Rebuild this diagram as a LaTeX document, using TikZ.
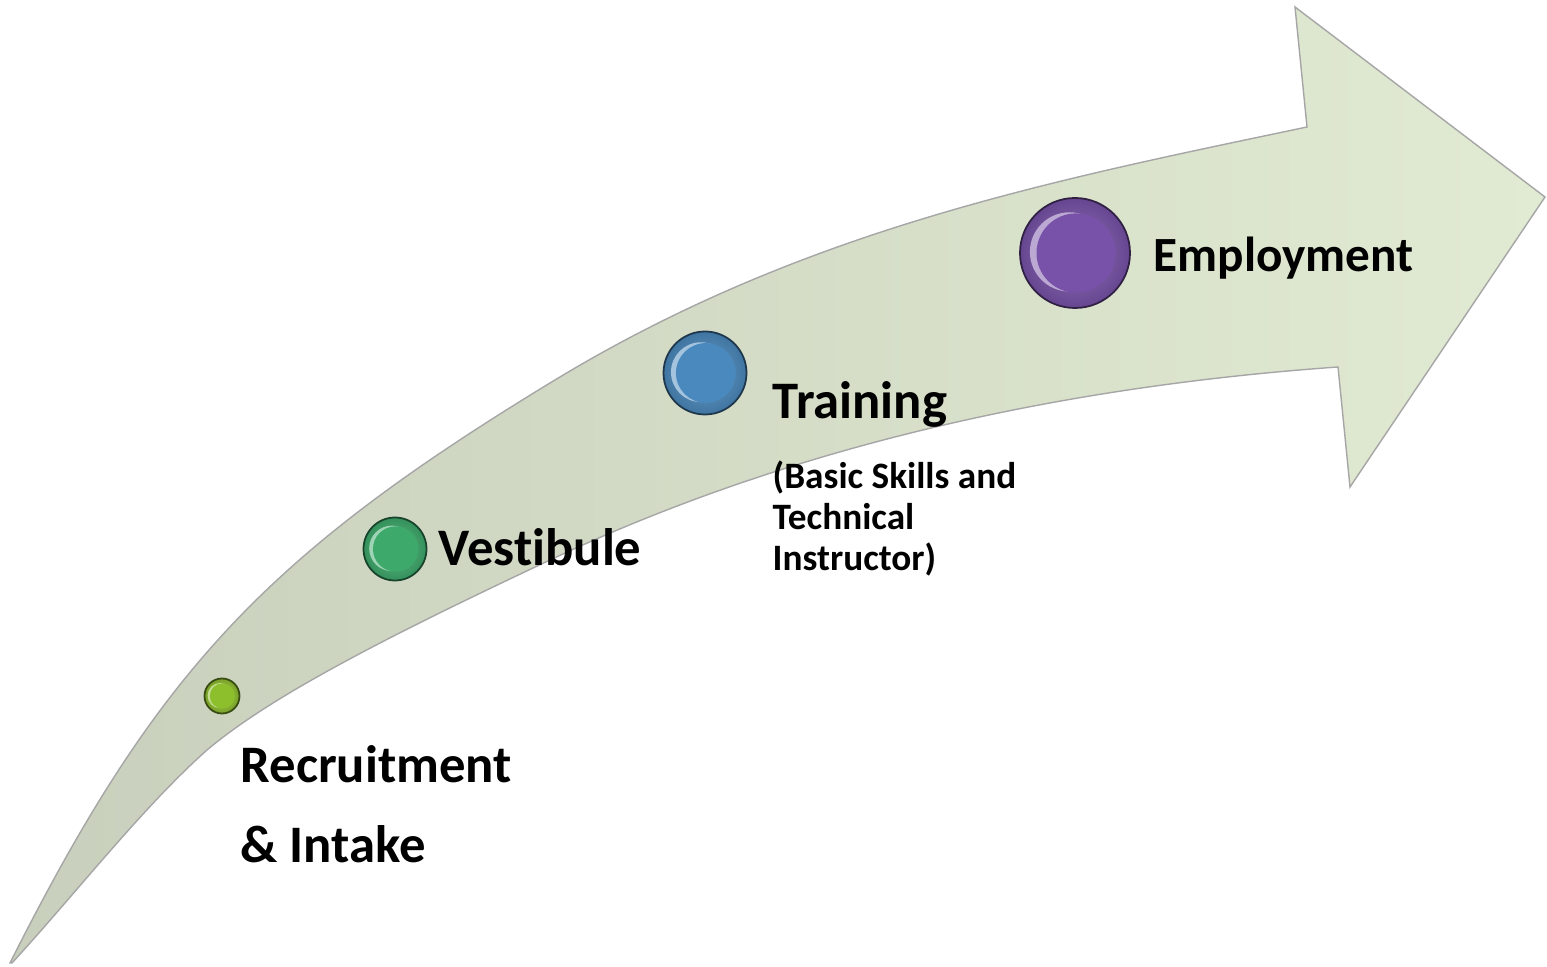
\documentclass[tikz,border=0pt]{standalone}
\usepackage{fontspec}
\setmainfont{Carlito}[Ligatures=NoCommon]

\definecolor{shaftgray}{HTML}{C8CFBC}
\definecolor{shaftgreen}{HTML}{E1EAD2}
\definecolor{recgreen}{HTML}{8DBE2C}
\definecolor{vesgreen}{HTML}{3DAA6B}
\definecolor{trnblue}{HTML}{4A89BD}
\definecolor{emppurple}{HTML}{7852A9}

\tikzset{
  button/.style 2 args={circle,inner sep=0pt,minimum size=#1,draw=#2!40!black,line width=0.5pt,
    inner color=#2!80!white,outer color=#2!85!black,
    path picture={
      \fill[#2!50!white] ([xshift=-0.05*#1,yshift=0.01*#1]path picture bounding box.center) circle[radius=0.36*#1];
      \fill[#2] ([xshift=0.01*#1]path picture bounding box.center) circle[radius=0.36*#1];}},
  stagetext/.style={inner sep=0pt,font=\fontsize{15}{22.8}\selectfont\bfseries},
  subtext/.style={inner sep=0pt,align=left,font=\fontsize{10.6}{11.7}\selectfont\bfseries}
}

\begin{document}
\begin{tikzpicture}
\useasboundingbox (0,0) rectangle (15.47,9.67);
\draw[left color=shaftgray,right color=shaftgreen,draw=black!35,line width=0.4pt]
  (0.10,0.04) .. controls (1.56,2.94) and (2.64,4.10) .. (5.50,5.84)
  .. controls (8.02,7.38) and (10.55,7.87) .. (13.07,8.40)
  -- (12.95,9.60) -- (15.45,7.70) -- (13.50,4.80) -- (13.38,6.00)
  .. controls (10.42,5.79) and (7.80,5.15) .. (5.50,4.07)
  .. controls (3.80,3.27) and (2.70,2.70) .. (2.07,2.17)
  .. controls (1.42,1.59) and (0.77,0.75) .. (0.12,0.04)
  -- cycle;

\node[button={0.35cm}{recgreen}] (rec) at (2.22,2.71) {};
\node[button={0.63cm}{vesgreen}] (ves) at (3.95,4.18) {};
\node[button={0.83cm}{trnblue}] (trn) at (7.05,5.94) {};
\node[button={1.10cm}{emppurple}] (emp) at (10.75,7.14) {};

\node[stagetext,align=left,anchor=north west] (rectext) at (2.40,2.22) {Recruitment\\\& Intake};
\node[stagetext,anchor=base west] (vestext) at (4.38,4.01) {Vestibule};
\node[stagetext,anchor=base west] (trntext) at (7.72,5.48) {Training};
\node[subtext,anchor=north west] (trnsub) at (7.72,5.07) {(Basic Skills and\\Technical\\Instructor)};
\node[stagetext,font=\fontsize{14}{17}\selectfont\bfseries,anchor=base west] (emptext) at (11.53,6.95) {Employment};
\end{tikzpicture}
\end{document}
